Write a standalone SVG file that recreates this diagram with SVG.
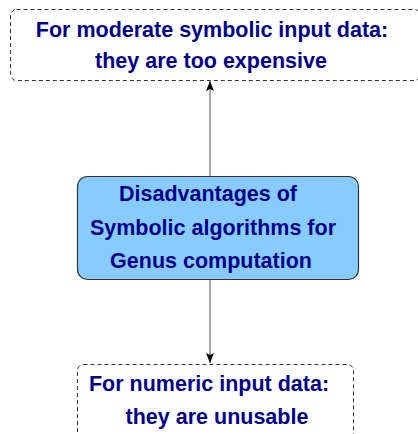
<svg xmlns="http://www.w3.org/2000/svg" width="418" height="434" viewBox="0 0 418 434">
  <defs>
    <marker id="arrowhead" markerWidth="10" markerHeight="8" refX="10" refY="4" orient="auto" markerUnits="userSpaceOnUse" viewBox="0 0 10 8">
      <path d="M0,0 L10,4 L0,8 L2,4 Z" fill="#000"/>
    </marker>
  </defs>
  <style>
    .note { fill: #fff; stroke: #333; stroke-width: 1; stroke-dasharray: 4 3; }
    .core { fill: #88ccff; stroke: #333; stroke-width: 1.2; }
    .label { font-family: "Liberation Sans", Arial, Helvetica, sans-serif; font-weight: bold; font-size: 21.5px; fill: #000088; text-anchor: middle; }
    .link { stroke: #777; stroke-width: 1.3; fill: none; marker-end: url(#arrowhead); }
  </style>
  <rect width="418" height="434" fill="#fff"/>

  <g id="connectors">
    <line class="link" x1="210" y1="176" x2="210" y2="81"/>
    <line class="link" x1="210" y1="280" x2="210" y2="363"/>
  </g>

  <g id="node-expensive">
    <rect class="note" x="10.5" y="9.5" width="410" height="71" rx="6"/>
    <text class="label" x="212" y="37">For moderate symbolic input data:</text>
    <text class="label" x="211" y="68">they are too expensive</text>
  </g>

  <g id="node-disadvantages">
    <rect class="core" x="77.5" y="176.5" width="281" height="103" rx="10"/>
    <text class="label" x="208" y="201">Disadvantages of</text>
    <text class="label" x="213" y="235">Symbolic algorithms for</text>
    <text class="label" x="211" y="268">Genus computation</text>
  </g>

  <g id="node-unusable">
    <rect class="note" x="77.5" y="364.5" width="276" height="80" rx="6"/>
    <text class="label" x="209" y="391">For numeric input data:</text>
    <text class="label" x="217" y="424">they are unusable</text>
  </g>
</svg>
